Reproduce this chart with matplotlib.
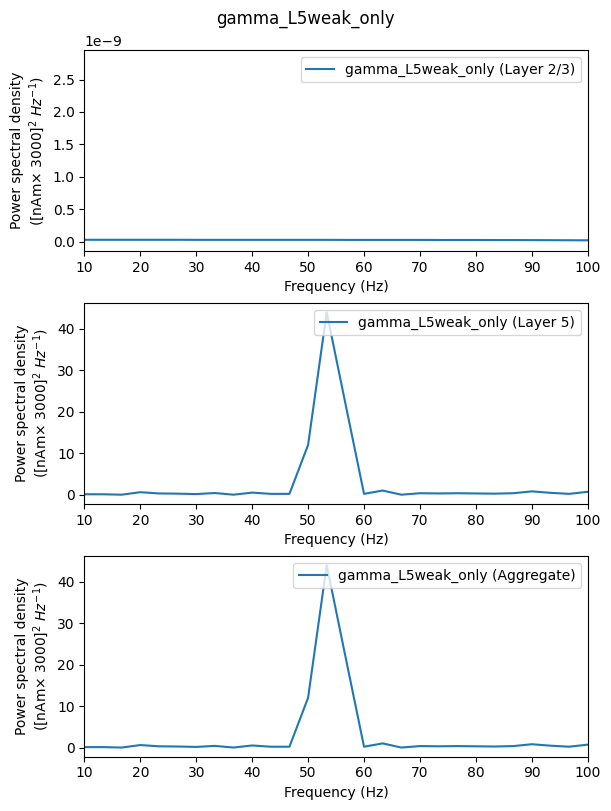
import numpy as np
import matplotlib.pyplot as plt

# frequency bins (Hz) and PSD values
freqs = np.array([10.0, 13.33, 16.67, 20.0, 23.33, 26.67, 30.0, 33.33, 36.67, 40.0,
                  43.33, 46.67, 50.0, 53.33, 56.67, 60.0, 63.33, 66.67, 70.0, 73.33,
                  76.67, 80.0, 83.33, 86.67, 90.0, 93.33, 96.67, 100.0])

psd_l23 = np.array([3.2e-11, 3.2e-11, 3.2e-11, 3.2e-11, 3.2e-11, 3.2e-11, 3.1e-11, 3.1e-11,
                    3.1e-11, 3.1e-11, 3.1e-11, 3.1e-11, 3.1e-11, 3.1e-11, 3.0e-11, 3.0e-11,
                    3.0e-11, 3.0e-11, 3.0e-11, 2.9e-11, 2.9e-11, 2.9e-11, 2.8e-11, 2.8e-11,
                    2.7e-11, 2.6e-11, 2.5e-11, 2.4e-11])

psd_l5 = np.array([0.1, 0.1, 0.0, 0.6, 0.3, 0.25, 0.15, 0.4, 0.0, 0.5,
                   0.2, 0.2, 12.0, 44.0, 22.0, 0.2, 1.0, 0.0, 0.35, 0.3,
                   0.35, 0.3, 0.25, 0.35, 0.8, 0.45, 0.2, 0.7])

psd_agg = psd_l5 + psd_l23

name = "gamma_L5weak_only"
series = [(psd_l23, "Layer 2/3"), (psd_l5, "Layer 5"), (psd_agg, "Aggregate")]
ylabel = "Power spectral density\n" + r"([nAm$\times$ 3000]$^2$ $Hz^{-1}$)"

fig, axes = plt.subplots(3, 1, figsize=(6.11, 8.11), dpi=100)
fig.subplots_adjust(left=0.138, right=0.962, top=0.938, bottom=0.067, hspace=0.26)
fig.suptitle(name, fontsize=12, y=0.988)

for ax, (vals, layer) in zip(axes, series):
    ax.plot(freqs, vals, color='#1f77b4', label=f"{name} ({layer})")
    ax.set_xlim(10, 100)
    ax.set_xlabel("Frequency (Hz)")
    ax.set_ylabel(ylabel)
    ax.legend(loc="upper right")

# top panel's range is set by low-frequency power outside the shown window
axes[0].set_ylim(-0.14e-9, 2.95e-9)

plt.savefig("out.png", dpi=100)
